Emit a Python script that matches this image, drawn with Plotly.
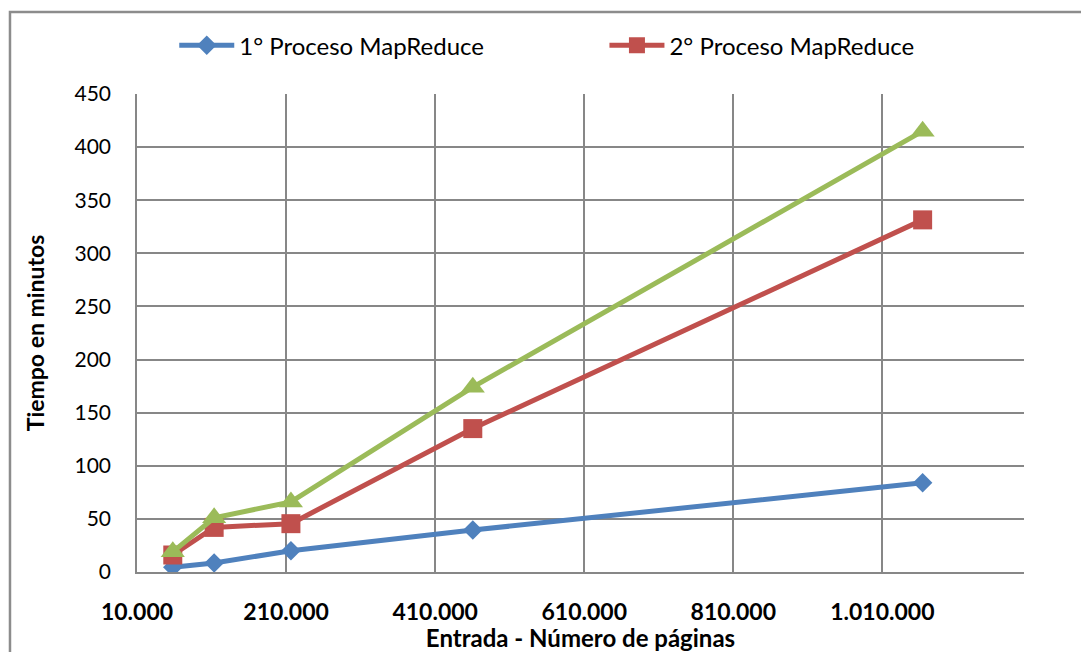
import plotly.graph_objects as go

paginas = [58000, 113500, 216500, 460500, 1064000]
proceso1 = [4.5, 8.5, 20, 39.5, 84]
proceso2 = [16, 42, 45.5, 135, 331.5]
proceso3 = [19, 51, 66, 174, 415]

x_ticks = [10000, 210000, 410000, 610000, 810000, 1010000]
x_labels = ["10.000", "210.000", "410.000", "610.000", "810.000", "1.010.000"]
y_ticks = [0, 50, 100, 150, 200, 250, 300, 350, 400, 450]

FONT = "Lato, 'Open Sans', sans-serif"
GRID = "#878787"

fig = go.Figure()
fig.add_trace(go.Scatter(
    x=paginas, y=proceso1, mode="lines+markers", name="1° Proceso MapReduce",
    line=dict(color="#4F81BD", width=5),
    marker=dict(symbol="diamond", size=15, color="#4F81BD"),
    legend="legend",
))
fig.add_trace(go.Scatter(
    x=paginas, y=proceso2, mode="lines+markers", name="2° Proceso MapReduce",
    line=dict(color="#C0504D", width=5),
    marker=dict(symbol="square", size=19, color="#C0504D"),
    legend="legend2",
))
fig.add_trace(go.Scatter(
    x=paginas, y=proceso3, mode="lines+markers", name="3° Proceso MapReduce",
    line=dict(color="#9BBB59", width=5),
    marker=dict(symbol="triangle-up", size=21, color="#9BBB59"),
    showlegend=False,
))

leg_common = dict(
    orientation="h", xanchor="left", yanchor="middle", y=1.101,
    font=dict(family=FONT, size=24, color="black"),
    itemwidth=55, bgcolor="rgba(0,0,0,0)",
)

fig.update_layout(
    width=1081, height=652,
    margin=dict(l=137, r=57, t=94, b=80, autoexpand=False),
    paper_bgcolor="white", plot_bgcolor="white",
    font=dict(family=FONT, size=21, color="black"),
    legend=dict(x=0.042, **leg_common),
    legend2=dict(x=0.527, **leg_common),
    xaxis=dict(
        range=[10000, 1200000], tickvals=x_ticks, ticktext=x_labels,
        showgrid=True, gridcolor=GRID, gridwidth=1.5,
        showline=True, linecolor=GRID, linewidth=1.5, mirror=False,
        zeroline=False, ticks="", automargin=False,
        tickfont=dict(family=FONT, size=23, color="black", weight="bold"),
        ticklabelstandoff=19,
        title=dict(text="<b>Entrada - Número de páginas</b>", font=dict(family=FONT, size=24), standoff=0),
    ),
    yaxis=dict(
        range=[0, 450], tickvals=y_ticks,
        showgrid=True, gridcolor=GRID, gridwidth=1.5,
        showline=True, linecolor=GRID, linewidth=1.5,
        zeroline=False, ticks="", automargin=False,
        tickfont=dict(family=FONT, size=21, color="black"),
        ticklabelstandoff=20,
        title=dict(text="<b>Tiempo en minutos</b>", font=dict(family=FONT, size=23), standoff=23),
    ),
    shapes=[dict(
        type="rect", xref="paper", yref="paper",
        x0=-0.1432, y0=-0.3, x1=1.2, y1=1.1715,
        line=dict(color="#8C8C8C", width=2.5), fillcolor="rgba(0,0,0,0)", layer="below",
    )],
)

fig.write_html("out.html", config={"displayModeBar": False},
               post_script="document.body.style.margin='0';")
